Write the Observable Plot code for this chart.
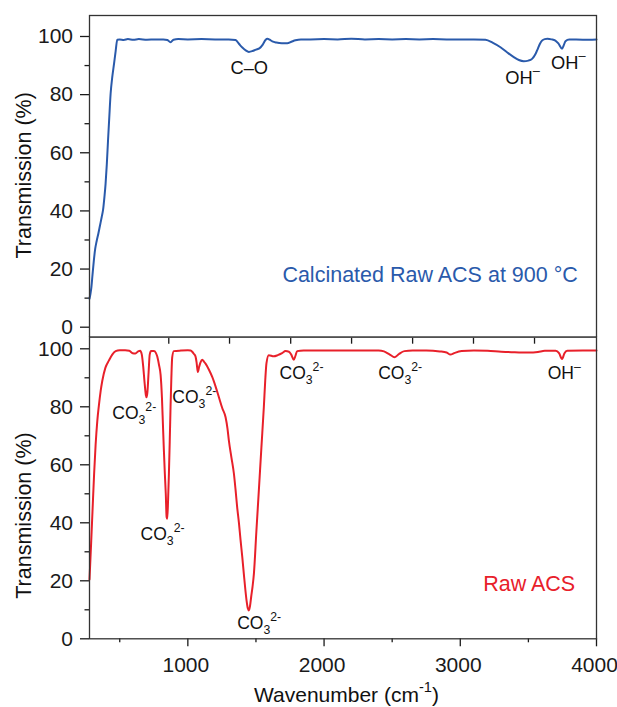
<!DOCTYPE html>
<html><head><meta charset="utf-8">
<script src="https://cdn.jsdelivr.net/npm/d3@7"></script>
<script src="https://cdn.jsdelivr.net/npm/@observablehq/plot@0.6"></script>
<style>
body{margin:0;background:#fff}
#chart{position:relative;width:617px;height:707px;background:#fff}
#chart svg{position:absolute;left:0}
</style>
</head><body><div id="chart"></div>
<script>
// ---------- data ----------
const xDomain = [278, 4000];
const yTicksMajor = [0, 20, 40, 60, 80, 100];
const yTicksMinor = [10, 30, 50, 70, 90];
const xTicksMajor = [1000, 2000, 3000, 4000];
const xTicksMinor = [500, 1500, 2500, 3500];
const boundaryTicks = [860, 1306, 1755, 2202, 2650, 3097, 3545];

// Calcinated Raw ACS at 900 °C (top, blue)
const calcWn = [278,285,292,300,310,320,330,342,355,368,378,388,396,405,414,423,433,445,458,470,482,500,530,560,600,640,700,760,820,850,873,895,930,1000,1100,1200,1300,1350,1375,1400,1425,1448,1475,1500,1525,1550,1570,1585,1600,1620,1650,1690,1730,1760,1790,1830,1900,2000,2100,2200,2300,2400,2500,2600,2700,2800,2900,3000,3100,3185,3240,3295,3345,3393,3430,3466,3500,3527,3550,3564,3585,3600,3620,3640,3670,3698,3720,3747,3760,3772,3800,3900,4000];
const calcT  = [9.8,11.5,13.8,18,23,27,29.5,32,35,38,40.5,45,49.3,56,64.2,72,80.3,86,90.6,95,98.9,99.0,98.8,99.1,98.9,99.1,98.9,99.0,99.0,98.8,98.0,98.9,99.1,99.0,99.1,99.0,99.0,98.8,97.5,96.2,95.2,94.7,95.0,95.5,95.9,97.2,98.8,99.2,98.9,98.3,97.9,97.7,97.7,98.2,98.7,99.0,99.0,99.1,99.0,99.2,99.0,99.1,99.0,99.1,99.0,99.1,99.0,99.0,99.0,98.9,97.8,96.3,94.5,92.9,91.9,91.5,91.7,92.3,93.8,95.2,97.5,98.6,99.1,99.2,99.0,98.6,97.6,95.8,97.0,98.4,99.0,98.9,99.0];

// Raw ACS (bottom, red)
const rawWn = [278,290,300,312,323,335,347,360,372,395,421,445,470,500,540,570,595,615,635,650,662,672,683,692,697,703,712,720,730,751,765,775,788,800,810,817,824,831,838,844,849,855,861,867,873,879,885,897,950,1000,1020,1032,1045,1056,1065,1073,1083,1093,1106,1118,1130,1155,1179,1205,1228,1253,1277,1291,1301,1320,1338,1350,1362,1375,1387,1400,1411,1422,1431,1440,1448,1456,1465,1475,1485,1503,1521,1540,1558,1568,1577,1594,1631,1660,1692,1717,1742,1760,1778,1790,1802,1850,2000,2200,2400,2440,2480,2519,2550,2590,2650,2750,2850,2900,2927,2960,3010,3100,3200,3300,3400,3500,3570,3620,3700,3725,3747,3765,3785,3900,4000];
const rawT  = [20.5,33,44,57,67,75,80.5,85.5,89,93.5,96,98,99.2,99.5,99.5,99.3,98.5,98.4,99.1,99.3,98,94,88,84,83.3,85,92,98,99.2,99.2,98.6,97.4,94.5,91,83,74,65,57,50,42,41.4,48,57,68,80,90,97,99.2,99.4,99.5,99.4,99.0,98.2,97.4,95,92,93.8,95.3,96.2,95.6,94.9,92.8,90.3,86.8,83.3,79.5,76.4,72.5,68.4,62.5,57,51.5,45.4,40,34,28,22.4,17,13.2,10.5,9.8,11.2,14.5,18,22.5,37,51,66,80,89,95,97.8,97.4,97.8,98.5,99.2,99.0,97.9,96.2,97.6,99.2,99.4,99.4,99.4,99.4,99.1,98.1,97.1,98.2,99.2,99.4,99.4,99.1,98.7,98.0,98.6,99.2,99.4,99.3,99.0,98.8,98.7,98.9,99.3,99.3,98.5,96.5,98.5,99.3,99.4,99.4];

// annotations (left start of text, vertical centre)
const calcLabelText = ["C–O", "OH^{–}", "OH^{–}"];
const calcLabelX = [1313, 3331, 3666];
const calcLabelY = [89, 85.8, 91];
const rawLabelText = ["CO_{3}^{2-}", "CO_{3}^{2-}", "CO_{3}^{2-}", "CO_{3}^{2-}", "CO_{3}^{2-}", "CO_{3}^{2-}", "OH^{–}"];
const rawLabelX = [445, 653, 886, 1362, 1673, 2397, 3642];
const rawLabelY = [77.6, 36, 83.3, 5.4, 91.4, 91.6, 91.6];

const calcTitle = "Calcinated Raw ACS at 900 °C";
const calcTitleX = 1694, calcTitleY = 17.8;
const rawTitle = "Raw ACS";
const rawTitleX = 3168, rawTitleY = 18.7;

const yLabel = "Transmission (%)";
const xLabel = "Wavenumber (cm^{-1})";

// ---------- build ----------
const BLUE = "#2a5aab", RED = "#e8202a", AXIS = "#333";
const FONT = '"Liberation Sans", Arial, Helvetica, sans-serif';
const style = {fontFamily: FONT, fontSize: "21px", color: "#1a1a1a", background: "transparent"};

const calcData = calcWn.map((w, i) => ({wn: w, t: calcT[i]}));
const rawData = rawWn.map((w, i) => ({wn: w, t: rawT[i]}));
const calcLabels = calcLabelText.map((s, i) => ({s, x: calcLabelX[i], y: calcLabelY[i]}));
const rawLabels = rawLabelText.map((s, i) => ({s, x: rawLabelX[i], y: rawLabelY[i]}));

function yAxes() {
  return [
    Plot.axisY(yTicksMajor, {tickSize: 9, tickPadding: 7.5, label: null, strokeWidth: 1.3, tickFormat: d => String(d)}),
    Plot.axisY(yTicksMinor, {tickSize: 4.5, tickFormat: () => "", label: null, strokeWidth: 1.3})
  ];
}

const topPlot = Plot.plot({
  width: 617, height: 337,
  marginTop: 15, marginBottom: 0.3, marginLeft: 89, marginRight: 21,
  x: {domain: xDomain, axis: null},
  y: {domain: [-3.44, 107.22]},
  style,
  marks: [
    ...yAxes(),
    Plot.line(calcData, {x: "wn", y: "t", stroke: BLUE, strokeWidth: 2, curve: "monotone-x"}),
    Plot.text(calcLabels, {x: "x", y: "y", text: "s", textAnchor: "start", fontSize: 18.3, fill: "#111"}),
    Plot.text([calcTitle], {x: () => calcTitleX, y: () => calcTitleY, text: d => d, textAnchor: "start", fontSize: 21.5, fill: BLUE}),
    Plot.text([yLabel], {frameAnchor: "left", textAnchor: "middle", dx: -65.5, dy: -1, rotate: -90, text: d => d, fontSize: 21.5, fill: "#111"}),
    Plot.frame({stroke: AXIS, strokeWidth: 1.3})
  ]
});

const bottomPlot = Plot.plot({
  width: 617, height: 371,
  marginTop: 0.7, marginBottom: 68.7, marginLeft: 89, marginRight: 21,
  x: {domain: xDomain},
  y: {domain: [0, 104]},
  style,
  marks: [
    ...yAxes(),
    Plot.axisX(xTicksMajor, {tickSize: 8, tickFormat: () => "", label: null, strokeWidth: 1.3}),
    Plot.axisX(xTicksMajor, {tickSize: 0, tickPadding: 18, label: null, tickFormat: d => String(d), dx: -2}),
    Plot.axisX(xTicksMinor, {tickSize: 4, tickFormat: () => "", label: null, strokeWidth: 1.3}),
    Plot.axisX(boundaryTicks, {anchor: "top", tickSize: -6, tickFormat: () => "", label: null, strokeWidth: 1.3}),
    Plot.line(rawData, {x: "wn", y: "t", stroke: RED, strokeWidth: 2, curve: "monotone-x"}),
    Plot.text(rawLabels, {x: "x", y: "y", text: "s", textAnchor: "start", fontSize: 17.5, fill: "#111"}),
    Plot.text([rawTitle], {x: () => rawTitleX, y: () => rawTitleY, text: d => d, textAnchor: "start", fontSize: 21.5, fill: RED}),
    Plot.text([yLabel], {frameAnchor: "left", textAnchor: "middle", dx: -65.5, dy: 27.5, rotate: -90, text: d => d, fontSize: 21.5, fill: "#111"}),
    Plot.text([xLabel], {frameAnchor: "bottom", textAnchor: "middle", dx: 3.5, dy: 56, lineAnchor: "middle", text: d => d, fontSize: 21, fill: "#111"}),
    Plot.frame({stroke: AXIS, strokeWidth: 1.3})
  ]
});

const chart = document.getElementById("chart");
topPlot.style.top = "0px";
bottomPlot.style.top = "336px";
chart.appendChild(topPlot);
chart.appendChild(bottomPlot);

// sub/superscripts as tspans
function richify(svg) {
  svg.querySelectorAll("text").forEach(t => {
    const s = t.textContent;
    if (!/[_^]\{/.test(s)) return;
    const f = parseFloat(getComputedStyle(t).fontSize) || 20;
    while (t.firstChild) t.removeChild(t.firstChild);
    let off = 0;
    const re = /(_|\^)\{([^}]*)\}|([^_^]+)/g;
    let m;
    while ((m = re.exec(s))) {
      const ts = document.createElementNS("http://www.w3.org/2000/svg", "tspan");
      let target = 0;
      if (m[1] === "_") { target = 0.28 * f; ts.setAttribute("font-size", 0.7 * f); ts.textContent = m[2]; }
      else if (m[1] === "^") { target = -0.45 * f; ts.setAttribute("font-size", 0.7 * f); ts.textContent = m[2]; }
      else { ts.textContent = m[3]; }
      if (target !== off) ts.setAttribute("dy", target - off);
      off = target;
      t.appendChild(ts);
    }
  });
}
richify(topPlot);
richify(bottomPlot);
</script></body></html>
